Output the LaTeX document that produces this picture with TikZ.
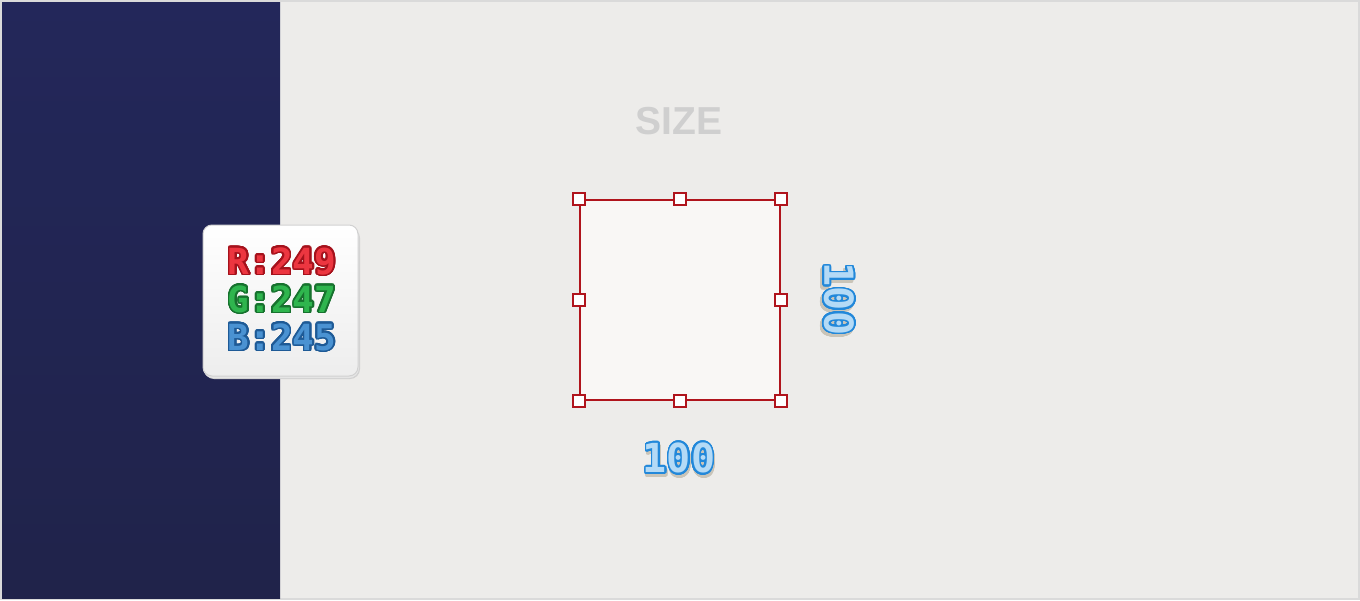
\documentclass[tikz,border=0pt]{standalone}
\usepackage{fontspec}
\setmainfont{Liberation Sans}
\newfontfamily\monofnt{DejaVu Sans Mono}
\usepackage{contour}
\contournumber{32}
\definecolor{bordergray}{HTML}{DADADA}
\definecolor{bg}{HTML}{EDECEA}
\definecolor{panelTop}{HTML}{23275A}
\definecolor{panelBot}{HTML}{20234A}
\definecolor{rectred}{HTML}{B0141C}
\definecolor{sqfill}{HTML}{F9F7F5}
\definecolor{sizegray}{HTML}{CFCFCF}
\definecolor{rfill}{HTML}{EC3640}
\definecolor{rline}{HTML}{A5121C}
\definecolor{gfill}{HTML}{2FB54E}
\definecolor{gline}{HTML}{17722E}
\definecolor{bfill}{HTML}{4A92D2}
\definecolor{bline}{HTML}{1E5A96}
\definecolor{dimfill}{HTML}{B4DAF6}
\definecolor{dimline}{HTML}{2288DA}
\definecolor{dimshadow}{HTML}{C9C4B8}
\tikzset{
  handle/.style={draw=rectred, fill=white, line width=1pt, minimum size=6pt, inner sep=0pt},
  rgbtxt/.style={font=\monofnt\bfseries\fontsize{18}{18}\selectfont, inner sep=0pt},
  dimtxt/.style={font=\monofnt\bfseries\fontsize{20}{20}\selectfont, inner sep=0pt},
}
\begin{document}
\begin{tikzpicture}[x=0.5pt,y=-0.5pt]
\useasboundingbox (0,0) rectangle (1360,600);
\fill[bordergray] (0,0) rectangle (1360,600);
\fill[bg] (2,2) rectangle (1358,598);
\shade[top color=panelTop,bottom color=panelBot] (2,2) rectangle (280,598);
% rgb box
\fill[black!18, rounded corners=5pt] (204,228) rectangle (360,379);
\fill[black!10, rounded corners=5pt] (203,227) rectangle (359,378);
\shade[top color=white, bottom color=black!7, draw=black!18, line width=0.5pt, rounded corners=4.5pt] (203,225) rectangle (358,376);
\contourlength{0.8pt}
\node[rgbtxt] (r) at (282,262) {\contour{rline}{\textcolor{rfill}{R:249}}};
\node[rgbtxt] (g) at (282,300) {\contour{gline}{\textcolor{gfill}{G:247}}};
\node[rgbtxt] (b) at (282,338) {\contour{bline}{\textcolor{bfill}{B:245}}};
% title
\node[font=\bfseries\fontsize{19.5}{19.5}\selectfont, text=sizegray] (size) at (679,121) {SIZE};
% square
\node[draw=rectred, line width=1pt, fill=sqfill, minimum width=100pt, minimum height=100pt, inner sep=0pt] (sq) at (680,300) {};
\foreach \a/\n in {north west/h1,north/h2,north east/h3,west/h4,east/h5,south west/h6,south/h7,south east/h8}{
  \node[handle] (\n) at (sq.\a) {};
}
% dimensions
\contourlength{0.9pt}
\node[dimtxt] (wsh) at (680,462) {\contour{dimshadow}{\textcolor{dimshadow}{100}}};
\node[dimtxt] (w) at (679,459) {\contour{dimline}{\textcolor{dimfill}{100}}};
\node[dimtxt, rotate=-90] (hsh) at (836,302) {\contour{dimshadow}{\textcolor{dimshadow}{100}}};
\node[dimtxt, rotate=-90] (h) at (838,299) {\contour{dimline}{\textcolor{dimfill}{100}}};
\end{tikzpicture}
\end{document}
